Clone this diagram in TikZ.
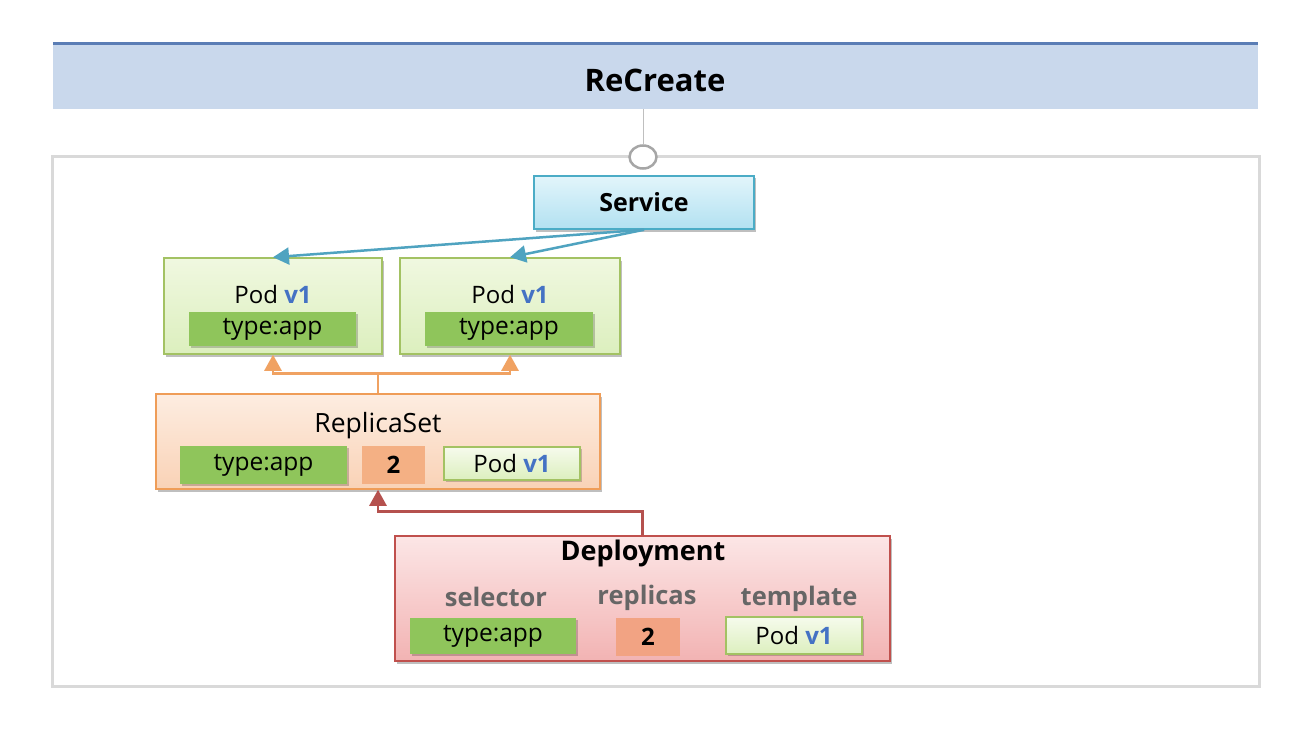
\documentclass[tikz,border=0pt]{standalone}
\usepackage{fontspec}
\setmainfont{Open Sans}
\usetikzlibrary{arrows.meta,shapes.geometric,shadows}
\definecolor{hdrfill}{HTML}{C9D8EC}
\definecolor{hdrline}{HTML}{5A7DB5}
\definecolor{frameg}{HTML}{D9D9D9}
\definecolor{circg}{HTML}{A6A6A6}
\definecolor{stemg}{HTML}{BFBFBF}
\definecolor{svctop}{HTML}{E2F5FB}
\definecolor{svcbot}{HTML}{B2E1F1}
\definecolor{svcline}{HTML}{4BACC6}
\definecolor{podtop}{HTML}{F0F8E0}
\definecolor{podbot}{HTML}{DCEFBE}
\definecolor{podline}{HTML}{A3C263}
\definecolor{lblgreen}{HTML}{8FC55B}
\definecolor{rstop}{HTML}{FDEDE1}
\definecolor{rsbot}{HTML}{F9D2B6}
\definecolor{rsline}{HTML}{EF9D58}
\definecolor{rstwo}{HTML}{F4B084}
\definecolor{deptop}{HTML}{FCE6E6}
\definecolor{depbot}{HTML}{F2B3B3}
\definecolor{depline}{HTML}{C0504D}
\definecolor{deptwo}{HTML}{F2A383}
\definecolor{vblue}{HTML}{4472C4}
\definecolor{lblgray}{HTML}{666666}
\definecolor{arrblue}{HTML}{4FA3C0}
\definecolor{arrorange}{HTML}{F0A262}
\definecolor{arrred}{HTML}{B5514E}
\newcommand\vone{\textcolor{vblue}{\bfseries v1}}
\begin{document}
\begin{tikzpicture}[x=1pt,y=-1pt,
  shad/.style={drop shadow={shadow xshift=2pt,shadow yshift=-2.5pt,opacity=0.25,fill=black}},
  txt/.style={inner sep=0pt,font=\fontsize{24}{28}\selectfont},
  btxt/.style={inner sep=0pt,font=\fontsize{27}{30}\selectfont\bfseries},
  gtxt/.style={inner sep=0pt,font=\fontsize{25.5}{30}\selectfont\bfseries,text=lblgray},
  podbox/.style={shad,draw=podline,line width=1.5pt,top color=podtop,bottom color=podbot,inner sep=0pt},
  tagbox/.style={fill=lblgreen,inner sep=0pt,font=\fontsize{24.5}{28}\selectfont,
     drop shadow={shadow xshift=1.5pt,shadow yshift=-1.5pt,opacity=0.2,fill=black}},
  numbox/.style={inner sep=0pt,font=\fontsize{24}{28}\selectfont\bfseries},
  smallpod/.style={draw=podline,line width=1.5pt,top color=white!40!podtop,bottom color=podbot,
     inner sep=0pt,font=\fontsize{24}{28}\selectfont,
     drop shadow={shadow xshift=1.5pt,shadow yshift=-1.5pt,opacity=0.2,fill=black}},
  arrhead/.style={-{Triangle[length=16pt,width=17pt]}},
  conn/.style={line width=2.5pt,arrhead}
]
\useasboundingbox (0,0) rectangle (1314,738);
\fill[white] (0,0) rectangle (1314,738);

% outer frame
\draw[frameg,line width=3pt] (52,157) rectangle (1259,686);

% header
\node[fill=hdrfill,minimum width=1205pt,minimum height=65pt,inner sep=0pt] (hdr) at (655.5,76.5) {};
\draw[hdrline,line width=3pt] (hdr.north west) -- (hdr.north east);
\node[inner sep=0pt,font=\fontsize{31}{35}\selectfont\bfseries] (title) at (655,80) {ReCreate};

% circle on frame
\node[ellipse,draw=circg,line width=2.5pt,fill=white,minimum width=27pt,minimum height=23pt,inner sep=0pt] (circ) at (643,157) {};
\draw[stemg,line width=1pt] (hdr.south -| circ.north) -- (circ.north);

% service
\node[shad,draw=svcline,line width=1.5pt,top color=svctop,bottom color=svcbot,
      minimum width=220pt,minimum height=53pt,inner sep=0pt,font=\fontsize{25}{30}\selectfont\bfseries] (svc) at (644,202.5) {Service};

% pods
\node[podbox,minimum width=218pt,minimum height=96pt] (pod1) at (273,306) {};
\node[txt] (pod1t) at (273,294) {Pod \vone};
\node[tagbox,minimum width=167pt,minimum height=34pt] (pod1l) at (272.5,329) {type:app};
\node[podbox,minimum width=220pt,minimum height=96pt] (pod2) at (510,306) {};
\node[txt] (pod2t) at (510,294) {Pod \vone};
\node[tagbox,minimum width=168pt,minimum height=34pt] (pod2l) at (509,329) {type:app};

% service -> pods
\draw[arrblue,conn] (svc.south) -- (pod1.north);
\draw[arrblue,conn] (svc.south) -- (pod2.north);

% replicaset
\node[shad,draw=rsline,line width=1.5pt,top color=rstop,bottom color=rsbot,
      minimum width=444pt,minimum height=95pt,inner sep=0pt] (rs) at (378,441.5) {};
\node[inner sep=0pt,font=\fontsize{26.5}{30}\selectfont] (rst) at (378,426) {ReplicaSet};
\node[tagbox,minimum width=167pt,minimum height=38pt] (rsl) at (263.5,465) {type:app};
\node[numbox,fill=rstwo,minimum width=63pt,minimum height=38pt] (rsn) at (393.5,465) {2};
\node[smallpod,minimum width=136pt,minimum height=33pt] (rsp) at (512,463.5) {Pod \vone};

% rs -> pods
\draw[arrorange,conn] (rs.north) -- ++(0,-20) -| (pod1.south);
\draw[arrorange,conn] (rs.north) -- ++(0,-20) -| (pod2.south);

% deployment
\node[shad,draw=depline,line width=1.5pt,top color=deptop,bottom color=depbot,
      minimum width=495pt,minimum height=125pt,inner sep=0pt] (dep) at (642.5,598.5) {};
\node[btxt] (dept) at (643,553) {Deployment};
\node[gtxt] (sel) at (496,597) {selector};
\node[gtxt] (rep) at (647,598) {replicas};
\node[gtxt] (tpl) at (799,599) {template};
\node[tagbox,minimum width=166pt,minimum height=36pt] (depl) at (493,636) {type:app};
\node[numbox,fill=deptwo,minimum width=64pt,minimum height=38pt] (depn) at (648,637) {2};
\node[smallpod,minimum width=136pt,minimum height=37pt] (depp) at (794,635.5) {Pod \vone};

% deployment -> rs
\draw[arrred,conn] (dep.north) -- ++(0,-24) -| (rs.south);
\end{tikzpicture}
\end{document}
